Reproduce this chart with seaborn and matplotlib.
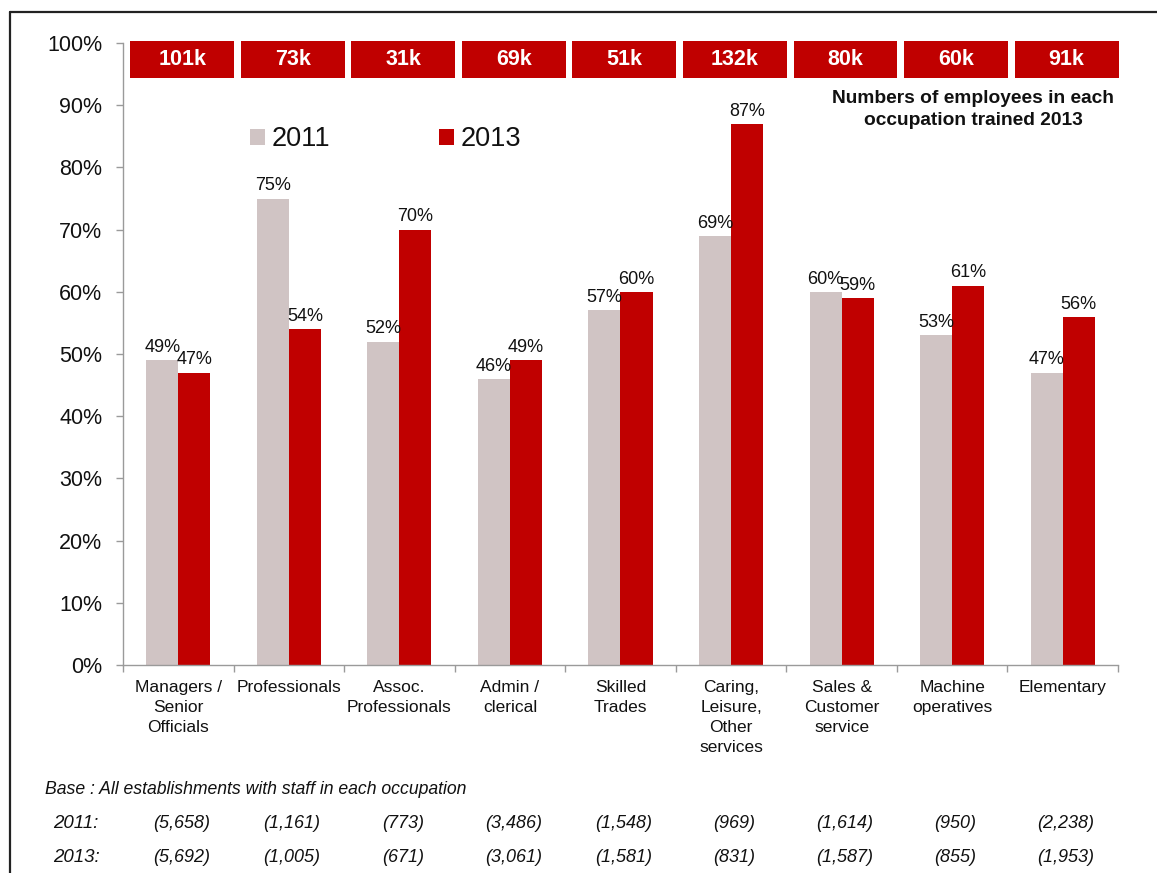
import matplotlib
matplotlib.use("Agg")
import matplotlib.pyplot as plt
import matplotlib.lines as mlines
import seaborn as sns
import pandas as pd
import numpy as np

categories = ["Managers /\nSenior\nOfficials", "Professionals", "Assoc.\nProfessionals",
              "Admin /\nclerical", "Skilled\nTrades", "Caring,\nLeisure,\nOther\nservices",
              "Sales &\nCustomer\nservice", "Machine\noperatives", "Elementary"]
values_2011 = [49, 75, 52, 46, 57, 69, 60, 53, 47]
values_2013 = [47, 54, 70, 49, 60, 87, 59, 61, 56]
trained_2013 = ["101k", "73k", "31k", "69k", "51k", "132k", "80k", "60k", "91k"]
base_2011 = ["(5,658)", "(1,161)", "(773)", "(3,486)", "(1,548)", "(969)", "(1,614)", "(950)", "(2,238)"]
base_2013 = ["(5,692)", "(1,005)", "(671)", "(3,061)", "(1,581)", "(831)", "(1,587)", "(855)", "(1,953)"]
years = ["2011", "2013"]
yticks = [0, 10, 20, 30, 40, 50, 60, 70, 80, 90, 100]

C2011 = "#D0C4C4"
C2013 = "#C00000"
AXC = "#9A9A9A"
TXT = "#111111"

sns.set_theme(style="white")
plt.rcParams["font.family"] = ["Liberation Sans", "DejaVu Sans"]
plt.rcParams["text.color"] = TXT

df = pd.DataFrame({
    "cat": categories * 2,
    "year": [years[0]] * len(categories) + [years[1]] * len(categories),
    "val": values_2011 + values_2013,
})

fig = plt.figure(figsize=(11.57, 8.73), dpi=100)
ax = fig.add_axes([123 / 1157, 1 - 665 / 873, (1118 - 123) / 1157, (665 - 43) / 873])

sns.barplot(data=df, x="cat", y="val", hue="year", hue_order=years,
            palette=[C2011, C2013], width=0.58, gap=0, saturation=1,
            edgecolor="none", linewidth=0, ax=ax, errorbar=None)

for cont in ax.containers:
    ax.bar_label(cont, fmt="{:.0f}%", fontsize=13, padding=3, color=TXT)

ax.set_xlim(-0.5, len(categories) - 0.5)
ax.set_ylim(0, 100)
ax.set_yticks(yticks)
ax.set_yticklabels([f"{t}%" for t in yticks], fontsize=15.5, color=TXT)
ax.tick_params(axis="y", direction="out", length=5, width=1, color=AXC, pad=10, left=True)
ax.set_xticks(range(len(categories)))
ax.set_xticklabels(categories, fontsize=12.5, color=TXT, linespacing=1.42, va="top")
ax.tick_params(axis="x", which="major", length=0, pad=11)
ax.set_xticks(np.arange(-0.5, len(categories), 1), minor=True)
ax.tick_params(axis="x", which="minor", direction="out", length=5, width=1, color=AXC, bottom=True)
ax.set_xlabel("")
ax.set_ylabel("")
for s in ["top", "right"]:
    ax.spines[s].set_visible(False)
for s in ["left", "bottom"]:
    ax.spines[s].set_color(AXC)
    ax.spines[s].set_linewidth(1)

# Top boxes: trained employees 2013
xs = np.arange(len(categories)) + 0.035
ax.bar(xs, [5.9] * len(categories), bottom=94.4, width=0.94, color=C2013,
       edgecolor="none", linewidth=0, clip_on=False, zorder=3)
for x, t in zip(xs, trained_2013):
    ax.text(x, 97.3, t, ha="center", va="center", color="white",
            fontsize=15.5, fontweight="bold", zorder=4, clip_on=False)

ax.text(7.19, 89.3, "Numbers of employees in each\noccupation trained 2013",
        ha="center", va="center", fontsize=13.8, fontweight="bold",
        color=TXT, linespacing=1.38)

# Legend
handles, labels = ax.get_legend_handles_labels()
if ax.get_legend() is not None:
    ax.get_legend().remove()
ax.legend(handles, labels, ncol=2, frameon=False, fontsize=19.5,
          loc="upper left", bbox_to_anchor=(0.128, 0.866),
          handlelength=0.55, handleheight=0.55, handletextpad=0.25,
          columnspacing=4.0, borderpad=0, borderaxespad=0, labelcolor=TXT)

# Base notes
fig.text(45 / 1157, 1 - 790 / 873, "Base : All establishments with staff in each occupation",
         fontsize=12.7, style="italic", ha="left", va="center", color=TXT)
trans = matplotlib.transforms.blended_transform_factory(ax.transData, fig.transFigure)
for row_lab, row_vals, ypx in [("2011:", base_2011, 823), ("2013:", base_2013, 857)]:
    fig.text(53 / 1157, 1 - ypx / 873, row_lab, fontsize=13.5, style="italic",
             ha="left", va="center", color=TXT)
    for i, v in enumerate(row_vals):
        ax.text(i + 0.03, 1 - ypx / 873, v, transform=trans, fontsize=13,
                style="italic", ha="center", va="center", color=TXT, clip_on=False)

# Figure border (top & left)
fig.add_artist(mlines.Line2D([10 / 1157, 10 / 1157], [0, 1 - 12 / 873],
                             transform=fig.transFigure, color="#222222", lw=1.6))
fig.add_artist(mlines.Line2D([10 / 1157, 1], [1 - 12 / 873, 1 - 12 / 873],
                             transform=fig.transFigure, color="#222222", lw=1.6))

fig.savefig("out.png", dpi=100, facecolor="white")
